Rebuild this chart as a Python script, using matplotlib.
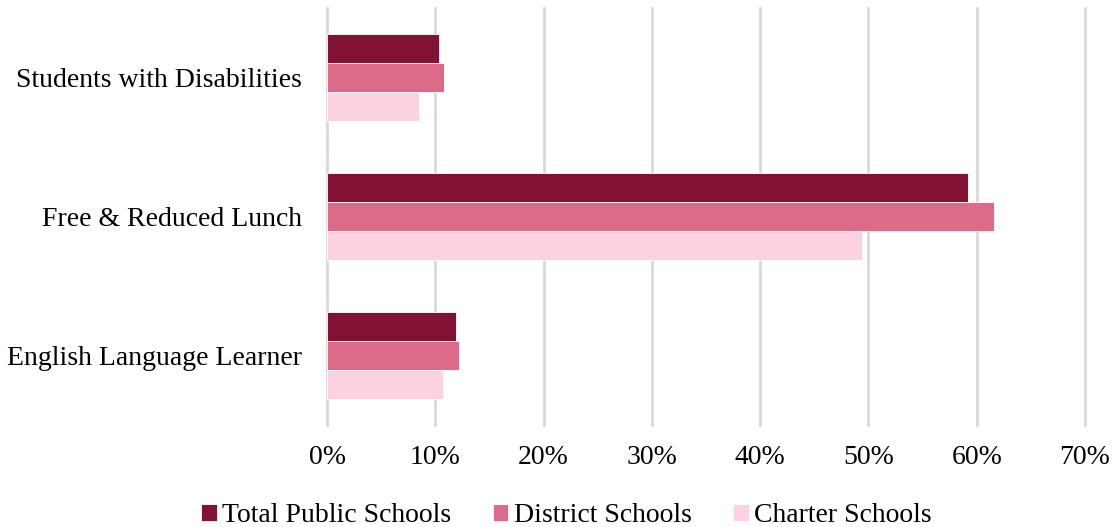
import numpy as np
import matplotlib.pyplot as plt

plt.rcParams['font.family'] = ['Liberation Serif', 'DejaVu Serif']

categories = ["Students with Disabilities", "Free & Reduced Lunch", "English Language Learner"]
series = ["Total Public Schools", "District Schools", "Charter Schools"]
total = [10.3, 59.2, 11.9]
district = [10.8, 61.6, 12.2]
charter = [8.5, 49.4, 10.7]
colors = ["#821232", "#DC6B8A", "#FDD2E0"]

fig = plt.figure(figsize=(11.13, 5.27), dpi=100)
ax = fig.add_axes([327 / 1113, 1 - 425 / 527, (1085 - 327) / 1113, (425 - 8) / 527])

y = np.arange(len(categories))
h = 0.209
for i, (vals, name) in enumerate(zip([total, district, charter], series)):
    ax.barh(y + (i - 1) * h, vals, height=h, color=colors[i], label=name,
            edgecolor="white", linewidth=0.6, zorder=3)

ax.set_ylim(2.5, -0.5)
ax.set_xlim(0, 70)
ax.set_xticks(range(0, 71, 10))
ax.set_xticklabels([f"{v}%" for v in range(0, 71, 10)], fontsize=20)
ax.set_yticks(y)
ax.set_yticklabels(categories, fontsize=20)
ax.tick_params(axis='both', length=0)
ax.tick_params(axis='x', pad=14.5)
ax.tick_params(axis='y', pad=18)
ax.grid(axis='x', color="#D9D9D9", linewidth=2, zorder=0)
for gl in ax.xaxis.get_gridlines():
    gl.set_clip_on(False)
for s in ax.spines.values():
    s.set_visible(False)

fig.legend(loc="lower center", bbox_to_anchor=(0.509, -0.05), ncol=3, frameon=False,
           fontsize=20, handlelength=0.55, handleheight=0.55, handletextpad=0.2,
           columnspacing=1.5)

fig.savefig("out.png", dpi=100)
